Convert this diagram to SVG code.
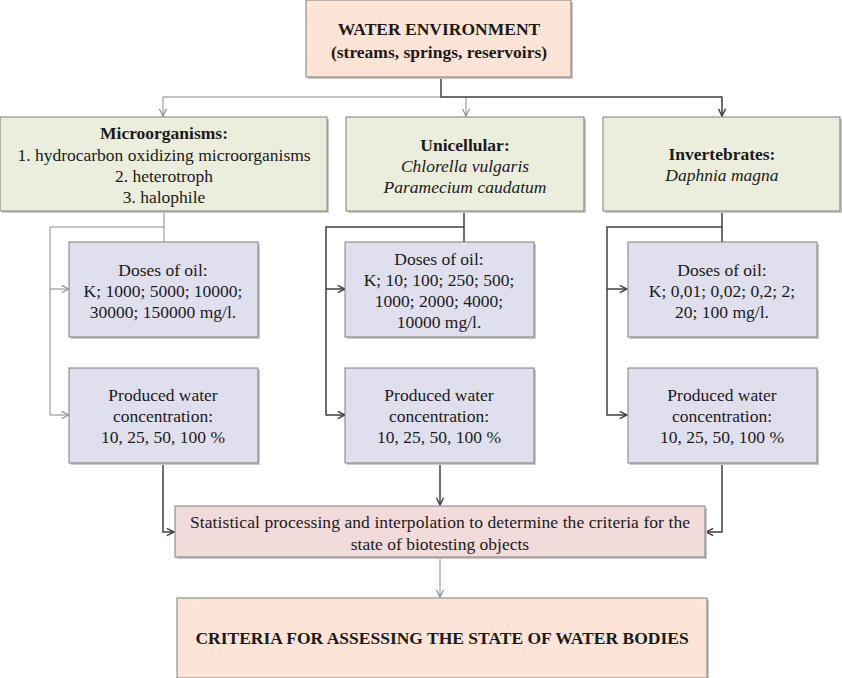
<svg xmlns="http://www.w3.org/2000/svg" width="842" height="678" viewBox="0 0 842 678">
<defs>
<style>
text{font-family:"Liberation Serif","Times New Roman","DejaVu Serif",serif;font-size:17.5px;fill:#1a1a1a;text-anchor:middle}
.b{font-weight:bold}
.i{font-style:italic}
.box{stroke:#7f7f7f;stroke-width:1}
.peach{fill:#fce4d6}
.green{fill:#ebeddd}
.lav{fill:#e0dfee}
.pink{fill:#f2dcdb}
.shadow{fill:#c9c9c9}
.dk{fill:none;stroke:#3f3f3f;stroke-width:1.5}
.lt{fill:none;stroke:#8a8a8a;stroke-width:1}
</style>
<marker id="ad" viewBox="0 0 10 10" refX="9" refY="5" markerWidth="9" markerHeight="9" markerUnits="userSpaceOnUse" orient="auto"><path d="M1,1 L9,5 L1,9" fill="none" stroke="#3f3f3f" stroke-width="1.6"/></marker>
<marker id="al" viewBox="0 0 10 10" refX="9" refY="5" markerWidth="9" markerHeight="9" markerUnits="userSpaceOnUse" orient="auto"><path d="M1,1 L9,5 L1,9" fill="none" stroke="#8a8a8a" stroke-width="1.2"/></marker>
</defs>
<rect width="842" height="678" fill="#ffffff"/>

<g id="connectors">
<polyline class="lt" points="441,97 163,97 163,116" marker-end="url(#al)"/>
<polyline class="lt" points="466,97 466,116" marker-end="url(#al)"/>
<polyline class="dk" points="441,77 441,97 722,97 722,116" marker-end="url(#ad)"/>
<line class="lt" x1="164" y1="212" x2="164" y2="242"/>
<polyline class="lt" points="164,227 50,227 50,415 69,415" marker-end="url(#al)"/>
<line class="lt" x1="50" y1="289" x2="69" y2="289" marker-end="url(#al)"/>
<line class="dk" x1="464" y1="212" x2="464" y2="242"/>
<polyline class="dk" points="464,227 326,227 326,415 345,415" marker-end="url(#ad)"/>
<line class="dk" x1="326" y1="289" x2="345" y2="289" marker-end="url(#ad)"/>
<line class="dk" x1="722" y1="212" x2="722" y2="242"/>
<polyline class="dk" points="722,227 607,227 607,415 627,415" marker-end="url(#ad)"/>
<line class="dk" x1="607" y1="289" x2="627" y2="289" marker-end="url(#ad)"/>
<polyline class="dk" points="163,463 163,532 174,532" marker-end="url(#ad)"/>
<line class="dk" x1="440" y1="463" x2="440" y2="505" marker-end="url(#ad)"/>
<polyline class="dk" points="722,463 722,532 706,532" marker-end="url(#ad)"/>
<line class="lt" x1="440" y1="557" x2="440" y2="597" marker-end="url(#al)"/>
</g>

<g id="water-environment">
<rect class="shadow" x="308" y="2" width="265" height="77"/>
<rect class="box peach" x="306" y="0" width="265" height="77"/>
<text class="b" x="439" y="35">WATER ENVIRONMENT</text>
<text class="b" x="439" y="58">(streams, springs, reservoirs)</text>
</g>

<g id="microorganisms">
<rect class="shadow" x="2" y="119" width="327" height="94"/>
<rect class="box green" x="0" y="117" width="327" height="94"/>
<text class="b" x="164" y="139">Microorganisms:</text>
<text x="164" y="161">1. hydrocarbon oxidizing microorganisms</text>
<text x="164" y="182">2. heterotroph</text>
<text x="164" y="203">3. halophile</text>
</g>

<g id="unicellular">
<rect class="shadow" x="348" y="119" width="238" height="94"/>
<rect class="box green" x="346" y="117" width="238" height="94"/>
<text class="b" x="465" y="151">Unicellular:</text>
<text class="i" x="465" y="172">Chlorella vulgaris</text>
<text class="i" x="465" y="193">Paramecium caudatum</text>
</g>

<g id="invertebrates">
<rect class="shadow" x="605" y="119" width="237" height="94"/>
<rect class="box green" x="603" y="117" width="237" height="94"/>
<text class="b" x="722" y="160">Invertebrates:</text>
<text class="i" x="722" y="181">Daphnia magna</text>
</g>

<g id="doses-micro">
<rect class="shadow" x="71" y="244" width="189" height="95"/>
<rect class="box lav" x="69" y="242" width="189" height="95"/>
<text x="163" y="276">Doses of oil:</text>
<text x="163" y="297">K; 1000; 5000; 10000;</text>
<text x="163" y="318">30000; 150000 mg/l.</text>
</g>

<g id="doses-uni">
<rect class="shadow" x="347" y="244" width="189" height="95"/>
<rect class="box lav" x="345" y="242" width="189" height="95"/>
<text x="439" y="265">Doses of oil:</text>
<text x="439" y="286">K; 10; 100; 250; 500;</text>
<text x="439" y="307">1000; 2000; 4000;</text>
<text x="439" y="328">10000 mg/l.</text>
</g>

<g id="doses-inv">
<rect class="shadow" x="630" y="244" width="189" height="95"/>
<rect class="box lav" x="628" y="242" width="189" height="95"/>
<text x="722" y="276">Doses of oil:</text>
<text x="722" y="297">K; 0,01; 0,02; 0,2; 2;</text>
<text x="722" y="318">20; 100 mg/l.</text>
</g>

<g id="produced-micro">
<rect class="shadow" x="71" y="370" width="189" height="95"/>
<rect class="box lav" x="69" y="368" width="189" height="95"/>
<text x="163" y="401">Produced water</text>
<text x="163" y="422">concentration:</text>
<text x="163" y="443">10, 25, 50, 100 %</text>
</g>

<g id="produced-uni">
<rect class="shadow" x="347" y="370" width="189" height="95"/>
<rect class="box lav" x="345" y="368" width="189" height="95"/>
<text x="439" y="401">Produced water</text>
<text x="439" y="422">concentration:</text>
<text x="439" y="443">10, 25, 50, 100 %</text>
</g>

<g id="produced-inv">
<rect class="shadow" x="630" y="370" width="189" height="95"/>
<rect class="box lav" x="628" y="368" width="189" height="95"/>
<text x="722" y="401">Produced water</text>
<text x="722" y="422">concentration:</text>
<text x="722" y="443">10, 25, 50, 100 %</text>
</g>

<g id="statistics">
<rect class="shadow" x="177" y="508" width="530" height="51"/>
<rect class="box pink" x="175" y="506" width="530" height="51"/>
<text x="440" y="528" textLength="500" lengthAdjust="spacing">Statistical processing and interpolation to determine the criteria for the</text>
<text x="440" y="550">state of biotesting objects</text>
</g>

<g id="criteria">
<rect class="shadow" x="179" y="600" width="530" height="80"/>
<rect class="box peach" x="177" y="598" width="530" height="80"/>
<text class="b" x="442" y="644">CRITERIA FOR ASSESSING THE STATE OF WATER BODIES</text>
</g>
</svg>
